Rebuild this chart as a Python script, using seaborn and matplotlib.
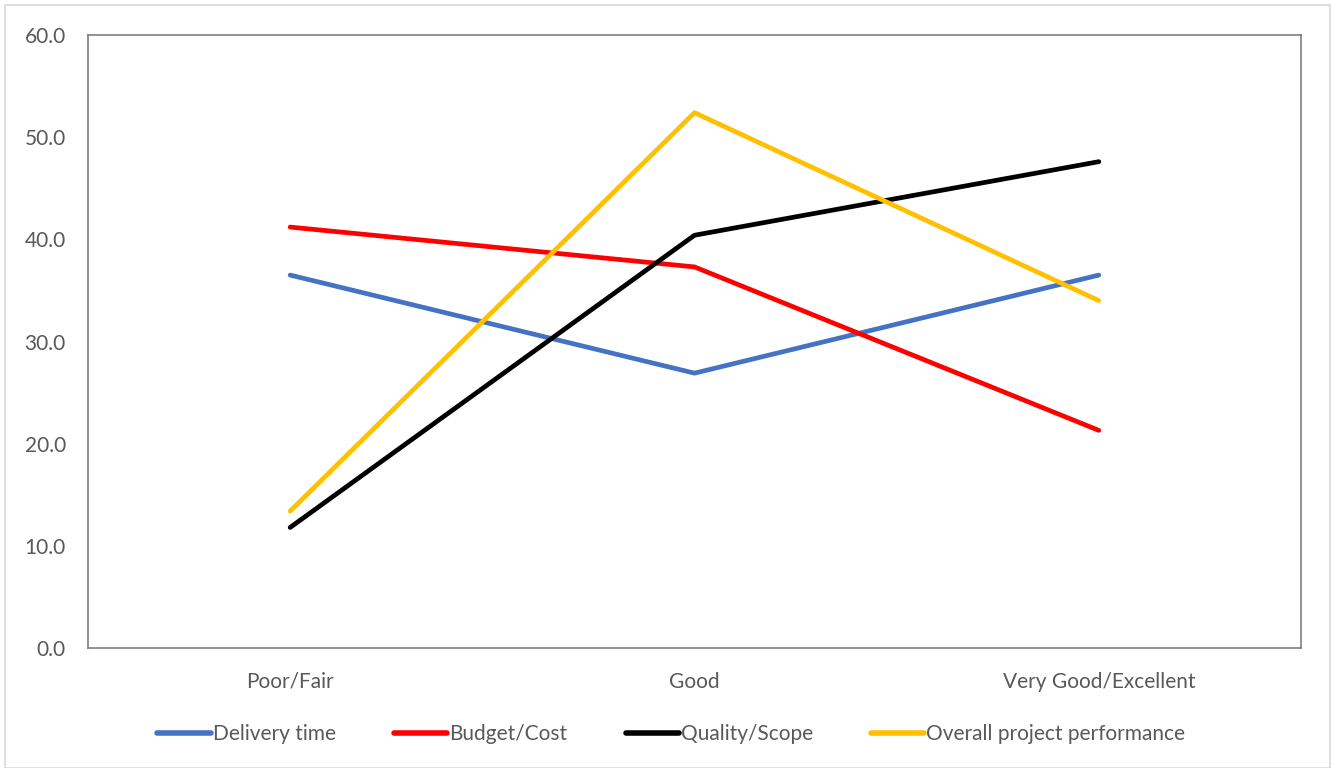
import matplotlib
matplotlib.use("Agg")
import matplotlib.pyplot as plt
import seaborn as sns
import pandas as pd
from matplotlib.patches import Rectangle

categories = ["Poor/Fair", "Good", "Very Good/Excellent"]
delivery_time = [36.5, 26.9, 36.5]
budget_cost = [41.2, 37.3, 21.3]
quality_scope = [11.8, 40.4, 47.6]
overall = [13.4, 52.4, 34.0]
series_names = ["Delivery time", "Budget/Cost", "Quality/Scope", "Overall project performance"]
colors = ["#4472C4", "#FF0000", "#000000", "#FFC000"]

sns.set_style("white")
plt.rcParams['font.family'] = ['Lato', 'DejaVu Sans']

rows = []
for name, vals in zip(series_names, [delivery_time, budget_cost, quality_scope, overall]):
    for c, v in zip(categories, vals):
        rows.append({"Category": c, "Value": v, "Series": name})
df = pd.DataFrame(rows)

fig = plt.figure(figsize=(13.31, 7.68), dpi=100)
ax = fig.add_axes([88/1331, 1-648/768, (1301-88)/1331, (648-35)/768])

sns.lineplot(data=df, x="Category", y="Value", hue="Series", hue_order=series_names,
             palette=colors, linewidth=3.4, ax=ax, sort=False, legend=True)

fs = 15
ax.set_xlim(-0.5, 2.5)
ax.set_ylim(0, 60)
ax.set_yticks(range(0, 61, 10))
ax.set_yticklabels([f"{v:.1f}" for v in range(0, 61, 10)])
ax.set_xlabel("")
ax.set_ylabel("")
ax.tick_params(axis="both", length=0, labelsize=fs, colors="#595959")
ax.tick_params(axis="y", pad=16)
ax.tick_params(axis="x", pad=17)
for s in ax.spines.values():
    s.set_visible(True)
    s.set_color("#7F7F7F")
    s.set_linewidth(1.2)
for line in ax.get_lines():
    line.set_solid_capstyle("round")

handles, labels = ax.get_legend_handles_labels()
ax.legend(handles, labels, loc="center", bbox_to_anchor=(0.481, -0.14), ncol=4, frameon=False,
          fontsize=fs, handlelength=2.55, handletextpad=0.1, columnspacing=2.8,
          labelcolor="#595959")
for lh in ax.get_legend().get_lines():
    lh.set_linewidth(4)
    lh.set_solid_capstyle("round")

fig.patches.append(Rectangle((5/1331, 0), 1-5/1331 - 1/1331, 1-5/768, transform=fig.transFigure,
                             fill=False, edgecolor="#D9D9D9", linewidth=1.2))

fig.savefig("out.png", dpi=100)
